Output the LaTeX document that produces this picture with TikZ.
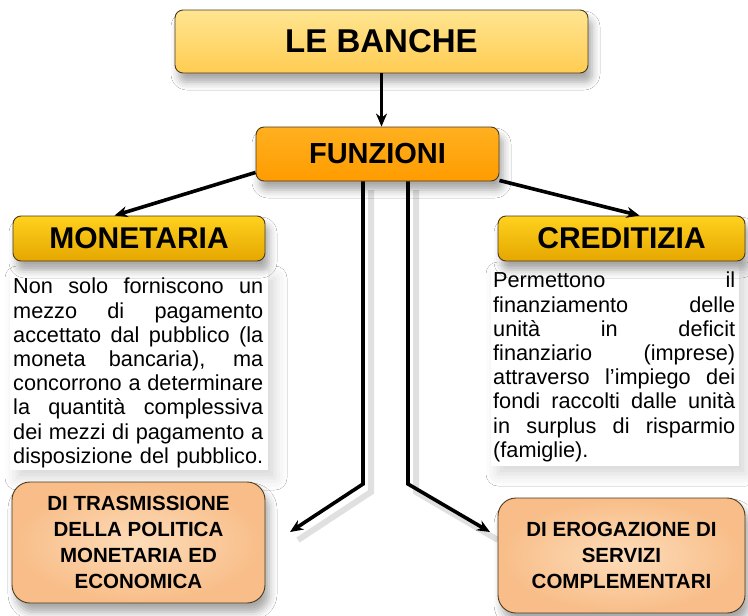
\documentclass[tikz,border=0pt]{standalone}
\usepackage{fontspec}
\setmainfont{Liberation Sans}
\usetikzlibrary{arrows.meta,shadows.blur}
\definecolor{bancheT}{HTML}{FFE591}
\definecolor{bancheM}{HTML}{FFD966}
\definecolor{bancheB}{HTML}{FFCC52}
\definecolor{funT}{HTML}{FFB020}
\definecolor{funM}{HTML}{FFA500}
\definecolor{funB}{HTML}{FF9C00}
\definecolor{goldT}{HTML}{FFD21E}
\definecolor{goldM}{HTML}{FFC000}
\definecolor{goldB}{HTML}{E5A600}
\definecolor{peachI}{HTML}{FDDCB9}
\definecolor{peachO}{HTML}{F8BD88}
\definecolor{edge}{HTML}{4A3A20}
\newcommand{\jl}[2]{\hbox to #1{#2}}
\tikzset{
  boxbase/.style={draw=edge, line width=0.9pt, inner sep=0pt, align=center,
    blur shadow={shadow xshift=4pt, shadow yshift=-9pt, shadow blur radius=8pt, shadow opacity=35}},
  hdrbox/.style={boxbase, rounded corners=8pt, font=\bfseries},
  peachbox/.style={boxbase, rounded corners=18pt, inner color=peachI, outer color=peachO,
    font=\fontsize{20.5}{26}\selectfont\bfseries},
  txtbg/.style={fill=white, draw=none, inner sep=0pt,
    blur shadow={shadow xshift=7pt, shadow yshift=-8pt, shadow blur radius=12pt, shadow opacity=16}},
  conn/.style={line width=3.6pt, -{Stealth[length=13pt,width=11pt]}},
  connshadow/.style={line width=6pt, draw=black, opacity=0.12},
  body/.style={anchor=north west, inner sep=0pt, font=\fontsize{21.7}{24.2}\selectfont}
}
\begin{document}
\begin{tikzpicture}[x=1pt,y=-1pt]
\useasboundingbox[fill=white] (0,0) rectangle (748,616);

% text backgrounds with soft shadow
\node[txtbg, minimum width=258pt, minimum height=200pt] (mbg) at (139,370) {};
\node[txtbg, minimum width=248pt, minimum height=200pt] (cbg) at (615,366) {};

\node[hdrbox, top color=bancheT, middle color=bancheM, bottom color=bancheB,
      minimum width=413pt, minimum height=63pt, font=\fontsize{33}{36}\selectfont\bfseries]
      (banche) at (381.5,41.5) {LE BANCHE};
\node[hdrbox, top color=funT, middle color=funM, bottom color=funB,
      minimum width=243pt, minimum height=54pt, font=\fontsize{29}{32}\selectfont\bfseries]
      (fun) at (377.5,154) {FUNZIONI};

\coordinate (lc) at (363,484);
\coordinate (rc) at (408,484);
\coordinate (ltip) at (290,532);
\coordinate (rtip) at (490,532);

% connector shadows
\draw[connshadow] (371,190) -- (371,492) -- (298,540);
\draw[connshadow] (416,190) -- (416,492) -- (498,540);

% connectors
\draw[conn] (banche.south) -- (banche.south |- fun.north);
\draw[conn] (fun.south -| lc) -- (lc) -- (ltip);
\draw[conn] (fun.south -| rc) -- (rc) -- (rtip);

\node[hdrbox, top color=goldT, middle color=goldM, bottom color=goldB,
      minimum width=252pt, minimum height=45pt, font=\fontsize{30}{33}\selectfont\bfseries]
      (mon) at (139,238.5) {MONETARIA};
\node[hdrbox, top color=goldT, middle color=goldM, bottom color=goldB,
      minimum width=247pt, minimum height=45pt, font=\fontsize{30}{33}\selectfont\bfseries]
      (cred) at (621.5,238.5) {CREDITIZIA};

\draw[conn] ([yshift=9pt]fun.south west) -- ([xshift=102pt]mon.north west);
\draw[conn] ([yshift=1pt]fun.south east) -- ([xshift=142pt]cred.north west);

\node[peachbox, minimum width=253pt, minimum height=121pt] (trasm) at (138.5,542.5)
  {DI TRASMISSIONE\\DELLA POLITICA\\MONETARIA ED\\ECONOMICA};
\node[peachbox, minimum width=247pt, minimum height=115pt] (erog) at (621.5,555.5)
  {DI EROGAZIONE DI\\SERVIZI\\COMPLEMENTARI};

% body texts
\node[body] (mtext) at (13,278) {\vbox{\baselineskip=24.2pt
  \jl{250pt}{Non solo forniscono un}
  \jl{250pt}{mezzo di pagamento}
  \jl{250pt}{accettato dal pubblico (la}
  \jl{250pt}{moneta bancaria), ma}
  \jl{250pt}{concorrono a determinare}
  \jl{250pt}{la quantità complessiva}
  \jl{250pt}{dei mezzi di pagamento a}
  \jl{250pt}{disposizione del pubblico.}}};
\node[body] (ctext) at (493,272) {\vbox{\baselineskip=24.2pt
  \jl{242pt}{Permettono il}
  \jl{242pt}{finanziamento delle}
  \jl{242pt}{unità in deficit}
  \jl{242pt}{finanziario (imprese)}
  \jl{242pt}{attraverso l’impiego dei}
  \jl{242pt}{fondi raccolti dalle unità}
  \jl{242pt}{in surplus di risparmio}
  \jl{242pt}{(famiglie).\hfil}}};
\end{tikzpicture}
\end{document}
